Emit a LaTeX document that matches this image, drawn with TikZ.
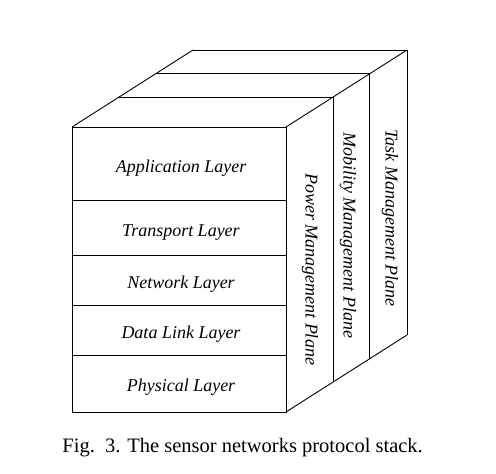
\documentclass[tikz,border=0pt]{standalone}
\usepackage{fontspec}
\setmainfont{Liberation Serif}
\usetikzlibrary{calc}

\begin{document}
\begin{tikzpicture}[x=1pt,y=-1pt,line width=0.9pt,
  layertext/.style={font=\fontsize{18}{20}\selectfont\itshape,anchor=base},
  planetext/.style={font=\fontsize{18}{20}\selectfont\itshape,rotate=-90}]
\useasboundingbox (0,0) rectangle (496,474);
% Front face corners and depth of the stack
\coordinate (ftl) at (72,127);
\coordinate (ftr) at (286,127);
\coordinate (fbr) at (286,412);
\coordinate (depth) at (121,-77);
% Front face with the five layers
\draw (ftl) rectangle (fbr);
\foreach \y in {200,255,305,355}
  \draw (72,\y) -- (286,\y);
% Planes going back (top and right side)
\foreach \t in {0.39,0.69,1}
  \draw ($(ftl)+\t*(depth)$) -- ($(ftr)+\t*(depth)$) -- ($(fbr)+\t*(depth)$);
\draw (ftl) -- ($(ftl)+(depth)$);
\draw (ftr) -- ($(ftr)+(depth)$);
\draw (fbr) -- ($(fbr)+(depth)$);
% Layer labels (placed on their baselines)
\foreach \name/\txt/\y in {app/Application Layer/172.5,
    trans/Transport Layer/236, net/Network Layer/288.5,
    link/Data Link Layer/338.5, phys/Physical Layer/391}
  \node[layertext] (\name) at (181,\y) {\txt};
% Plane labels
\node[planetext] (power) at (310,269) {Power Management Plane};
\node[planetext] (mobility) at (348,235) {Mobility Management Plane};
\node[planetext] (task) at (390,218) {Task Management Plane};
% Caption
\node[anchor=base west,inner sep=0pt,font=\fontsize{20.5}{24}\selectfont]
  (caption) at (62,452) {Fig.\hspace{0.5em}3. The sensor networks protocol stack.};
\end{tikzpicture}
\end{document}
